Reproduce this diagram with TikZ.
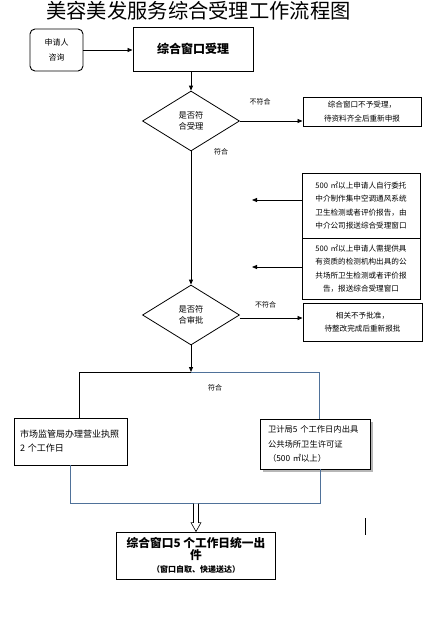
\documentclass[tikz,border=0pt]{standalone}
\usepackage{fontspec}
\setmainfont{Noto Sans CJK SC}
\usetikzlibrary{shapes.geometric,arrows.meta,shadows}
\definecolor{lineblue}{RGB}{79,113,153}
\tikzset{
 box/.style={draw, line width=0.9pt, inner sep=0pt, align=center},
 note/.style={font=\fontsize{7.6}{13.3}\selectfont},
 dia/.style={draw, diamond, line width=0.8pt, minimum width=97pt, minimum height=60pt, inner sep=0pt, align=center, font=\fontsize{8.3}{11}\selectfont},
 arr/.style={line width=0.8pt, -{Triangle[length=5pt,width=4pt]}},
 lbl/.style={font=\fontsize{7}{8}\selectfont, inner sep=0pt},
 ln/.style={line width=0.8pt},
}
\begin{document}
\begin{tikzpicture}[x=1pt,y=-1pt]
\useasboundingbox[fill=white] (0,0) rectangle (439,629);
\node[font=\fontsize{20.3}{22}\selectfont, inner sep=0pt] (title) at (198.5,11) {美容美发服务综合受理工作流程图};
\node[box, rounded corners=5pt, minimum width=53pt, minimum height=42pt, font=\fontsize{8}{15}\selectfont] (apply) at (56.5,50) {申请人\\咨询};
\node[box, minimum width=120pt, minimum height=44pt, font=\bfseries\fontsize{12}{14}\selectfont] (accept) at (193,49) {综合窗口受理};
\node[dia] (d1) at (191,121) {是否符\\合受理};
\node[box, note, minimum width=118pt, minimum height=29pt] (rej1) at (362,111.5) {综合窗口不予受理，\\待资料齐全后重新申报};
\node[box, note, minimum width=118pt, minimum height=65pt, text width=110pt] (box3) at (361,205.5) {500 ㎡以上申请人自行委托\\中介制作集中空调通风系统\\卫生检测或者评价报告，由\\中介公司报送综合受理窗口};
\node[box, note, minimum width=118pt, minimum height=61pt, text width=110pt] (box4) at (361,268.5) {500 ㎡以上申请人需提供具\\有资质的检测机构出具的公\\共场所卫生检测或者评价报\\告，报送综合受理窗口};
\node[dia] (d2) at (191,315) {是否符\\合审批};
\node[box, note, minimum width=119pt, minimum height=38pt] (rej2) at (362.5,322) {相关不予批准，\\待整改完成后重新报批};
\node[box, minimum width=113pt, minimum height=47pt, inner xsep=6pt, text width=101pt, align=left, font=\fontsize{9}{14}\selectfont] (box6) at (70.5,441.5) {市场监管局办理营业执照\\2 个工作日};
\node[box, fill=white, drop shadow={shadow xshift=2.5pt, shadow yshift=-2.5pt, fill=gray!70, opacity=0.8}, minimum width=110pt, minimum height=50pt, inner xsep=8pt, text width=94pt, align=left, font=\fontsize{8.3}{14.5}\selectfont] (box7) at (315,444) {卫计局5 个工作日内出具\\公共场所卫生许可证\\（500 ㎡以上）};
\node[box, minimum width=159pt, minimum height=47pt, font=\bfseries] (out) at (196,555.5) {{\fontsize{11.7}{12}\selectfont 综合窗口5 个工作日统一出}\\{\fontsize{11.7}{12}\selectfont 件}\\[1pt]{\fontsize{8}{10}\selectfont （窗口自取、快递送达）}};
% labels
\node[lbl] (l1) at (260,102) {不符合};
\node[lbl] (l2) at (221,152) {符合};
\node[lbl] (l3) at (265.5,305) {不符合};
\node[lbl] (l4) at (215,388) {符合};
% coordinates
\coordinate (t3) at (252,200);
\coordinate (t4) at (252,267);
\coordinate (j) at (191,372);
\coordinate (tl) at (79,372);
\coordinate (tr) at (319,372);
\coordinate (br) at (320,503);
% connectors
\draw[arr] (apply.east) -- (accept.west |- apply.east);
\draw[arr] (accept.south -| d1.north) -- (d1.north);
\draw[arr] (d1.east) -- (d1.east -| rej1.west);
\draw[arr] (d1.south) -- (d2.north);
\draw[arr] (box3.west |- t3) -- (t3);
\draw[arr] (box4.west |- t4) -- (t4);
\draw[arr] ([yshift=-3pt]d2.east) -- ([yshift=-3pt]d2.east -| rej2.west);
\draw[arr] (d2.south) -- (j);
\draw[ln] (j) -- (tl) -- (tl |- box6.north);
\draw[ln, lineblue] (j) -- (tr) -- (tr |- box7.north);
\draw[ln, lineblue] (box6.south) |- (br) -- (br |- box7.south);
% hollow arrow
\draw[line width=0.6pt, fill=white] ([xshift=-2.5pt,yshift=28pt]out.north) -- ([xshift=-2.5pt,yshift=9pt]out.north) -- ([xshift=-5pt,yshift=9pt]out.north) -- (out.north) -- ([xshift=5pt,yshift=9pt]out.north) -- ([xshift=2.5pt,yshift=9pt]out.north) -- ([xshift=2.5pt,yshift=28pt]out.north);
% cursor mark
\draw[line width=0.8pt] (365,518) -- (365,535);
\end{tikzpicture}
\end{document}
